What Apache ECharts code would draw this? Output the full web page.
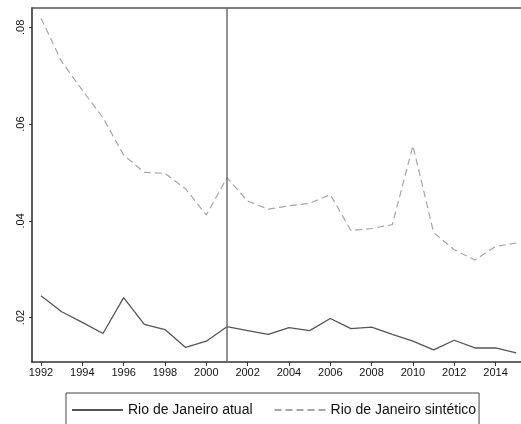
<!DOCTYPE html>
<html>
<head>
<meta charset="utf-8">
<script src="https://cdn.jsdelivr.net/npm/echarts@6/dist/echarts.min.js"></script>
<style>
  html, body { margin: 0; padding: 0; background: #fff; }
  #chart { width: 521px; height: 424px; }
</style>
</head>
<body>
<div id="chart"></div>
<script>
// dados
const years = [1992, 1993, 1994, 1995, 1996, 1997, 1998, 1999, 2000, 2001, 2002, 2003,
  2004, 2005, 2006, 2007, 2008, 2009, 2010, 2011, 2012, 2013, 2014, 2015];
const atual = [0.0245, 0.0212, 0.0190, 0.0167, 0.0241, 0.0186, 0.0175, 0.0138, 0.0151, 0.0181, 0.0173, 0.0165,
  0.0179, 0.0173, 0.0198, 0.0177, 0.0180, 0.0165, 0.0151, 0.0133, 0.0153, 0.0137, 0.0137, 0.0127];
const sintetico = [0.0819, 0.0729, 0.0670, 0.0613, 0.0536, 0.0500, 0.0498, 0.0466, 0.0412, 0.0489, 0.0441, 0.0424,
  0.0431, 0.0436, 0.0454, 0.0380, 0.0384, 0.0392, 0.0555, 0.0376, 0.0340, 0.0319, 0.0347, 0.0354];
const xTicks = [1992, 1994, 1996, 1998, 2000, 2002, 2004, 2006, 2008, 2010, 2012, 2014];
const yTicks = [0.02, 0.04, 0.06, 0.08];
const anoTratamento = 2001;
const nomes = ["Rio de Janeiro atual", "Rio de Janeiro sintético"];

const font = "'Liberation Sans', Arial, sans-serif";
const chart = echarts.init(document.getElementById("chart"));

const xMin = 1991.565, xMax = 2015.23;

chart.setOption({
  animation: false,
  grid: { left: 32, right: 0, top: 8, bottom: 62 },
  xAxis: [
    {
      type: "value",
      min: xMin,
      max: xMax,
      splitLine: { show: false },
      axisLine: { lineStyle: { color: "#333", width: 1.6 } },
      axisTick: { customValues: xTicks, length: 4, lineStyle: { color: "#333", width: 1 } },
      axisLabel: {
        customValues: xTicks,
        color: "#111",
        fontSize: 11,
        fontFamily: font,
        margin: 5,
        formatter: v => String(Math.round(v))
      }
    },
    {
      // linha de moldura no topo
      type: "value",
      position: "top",
      min: xMin,
      max: xMax,
      splitLine: { show: false },
      axisLine: { lineStyle: { color: "#555", width: 1.6 } },
      axisTick: { show: false },
      axisLabel: { show: false }
    }
  ],
  yAxis: {
    type: "value",
    min: 0.0108,
    max: 0.084,
    splitLine: { show: false },
    axisLine: { show: true, lineStyle: { color: "#333", width: 1.6 } },
    axisTick: { show: true, customValues: yTicks, length: 3, lineStyle: { color: "#333", width: 1 } },
    axisLabel: {
      customValues: yTicks,
      rotate: 90,
      color: "#111",
      fontSize: 11,
      fontFamily: font,
      margin: 6,
      formatter: v => v.toFixed(2).replace(/^0/, "")
    }
  },
  legend: {
    left: 66,
    top: 393,
    padding: [10, 3, 20, 5],
    itemWidth: 51,
    itemHeight: 14,
    itemGap: 21,
    borderColor: "#444",
    borderWidth: 1,
    borderRadius: 0,
    itemStyle: { opacity: 0 },
    textStyle: { fontSize: 14, fontFamily: font, color: "#111" },
    data: nomes
  },
  series: [
    {
      name: nomes[0],
      type: "line",
      symbol: "none",
      data: years.map((y, i) => [y, atual[i]]),
      lineStyle: { color: "#555", width: 1.3 },
      itemStyle: { color: "#555" },
      markLine: {
        silent: true,
        symbol: "none",
        label: { show: false },
        lineStyle: { color: "#6e6e6e", width: 1.5, type: "solid" },
        data: [{ xAxis: anoTratamento }]
      }
    },
    {
      name: nomes[1],
      type: "line",
      symbol: "none",
      data: years.map((y, i) => [y, sintetico[i]]),
      lineStyle: { color: "#a6a6a6", width: 1.2, type: [7, 4] },
      itemStyle: { color: "#a6a6a6" }
    }
  ]
});
</script>
</body>
</html>
